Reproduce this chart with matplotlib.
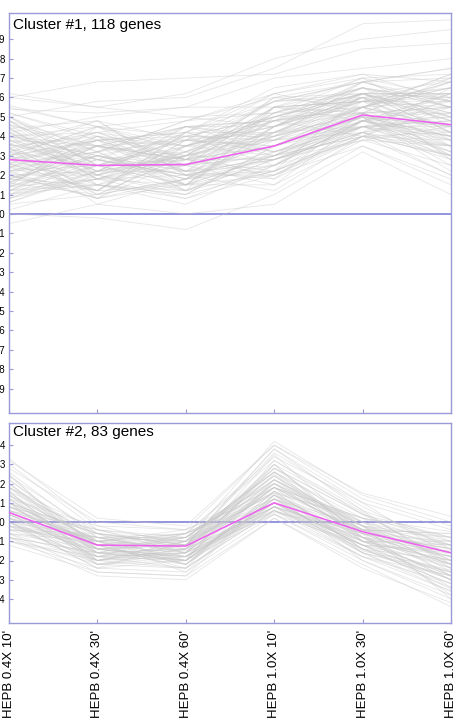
import numpy as np
import matplotlib
matplotlib.use('Agg')
import matplotlib.pyplot as plt

plt.rcParams['font.family'] = ['Liberation Sans', 'DejaVu Sans']

conditions = ["HEPB 0.4X 10'", "HEPB 0.4X 30'", "HEPB 0.4X 60'",
              "HEPB 1.0X 10'", "HEPB 1.0X 30'", "HEPB 1.0X 60'"]

# profiles in hundredths, one row per gene
cluster1 = """
28 25 25 35 51 46
42 18 30 55 48 62
12 30 22 18 52 35
35 40 15 42 60 28
20 12 35 48 40 55
50 28 20 30 58 70
8 22 40 25 45 40
30 45 28 60 55 30
45 15 10 22 62 50
18 35 45 38 42 65
62 55 50 45 68 75
5 10 18 40 50 22
25 32 12 28 38 45
38 20 32 50 65 58
15 38 25 15 48 32
48 25 38 35 55 68
22 8 15 45 60 40
32 42 48 62 52 52
10 18 8 20 35 18
40 30 22 52 70 60
26 12 42 32 45 48
55 45 35 58 62 42
14 28 20 12 40 30
36 22 28 48 55 72
20 38 15 30 50 25
46 32 45 40 68 55
2 15 5 25 38 35
30 10 30 55 58 45
16 35 38 42 45 62
60 55 62 80 90 95
24 20 10 35 52 38
40 42 28 28 48 50
12 25 35 50 62 68
34 5 18 22 42 20
52 38 42 65 72 58
18 30 25 40 55 45
28 15 32 18 40 60
44 48 20 45 58 35
8 18 28 38 50 52
22 35 12 55 65 42
0 -2 -8 10 35 15
38 28 45 48 52 70
16 40 22 28 45 30
48 20 30 60 68 55
50 58 60 75 98 100
26 12 38 32 48 40
12 32 15 45 60 65
36 25 28 20 42 28
56 45 50 52 62 48
20 8 18 38 55 58
30 38 35 30 40 35
42 50 55 70 75 80
10 22 30 42 50 45
34 15 8 25 48 38
24 30 40 50 62 62
46 35 22 35 55 42
14 25 15 15 38 25
40 18 35 45 65 55
28 42 25 55 52 68
18 12 42 30 45 32
52 40 30 40 60 50
6 20 12 28 42 48
32 48 38 62 70 72
22 28 20 22 48 35
44 22 45 48 58 60
16 35 28 35 50 40
36 10 18 42 62 52
26 32 48 52 55 65
48 25 15 20 40 30
12 18 32 58 68 75
30 38 22 32 45 45
20 8 28 40 52 55
40 45 40 50 60 38
10 28 18 25 48 58
34 20 35 45 62 48
54 52 55 55 58 62
18 15 10 35 50 28
28 35 30 28 42 52
38 22 42 62 72 68
14 30 20 20 45 35
44 18 25 48 55 45
24 40 35 38 60 62
32 12 15 30 48 40
8 25 38 45 52 55
48 35 28 52 65 50
20 20 45 32 42 30
36 48 22 25 55 65
16 10 30 42 62 42
40 30 18 55 58 58
26 38 40 38 45 48
12 15 12 22 40 20
34 42 35 48 68 70
50 25 25 35 50 45
22 32 48 60 62 60
30 18 20 28 45 38
14 45 32 42 58 55
42 28 15 50 52 32
24 12 38 35 48 62
38 35 28 22 40 42
6 22 22 45 65 58
28 38 42 58 60 48
46 20 30 38 55 72
18 30 18 28 42 35
34 8 35 50 62 52
60 68 70 72 85 88
22 25 12 32 50 40
40 35 45 45 58 65
10 15 25 55 70 45
30 45 20 30 48 55
20 22 40 40 52 30
-5 5 0 5 32 10
36 28 32 48 62 62
26 40 28 35 45 50
50 32 38 58 68 58
14 18 15 25 48 42
32 25 42 42 55 68
24 35 25 30 40 38
42 22 30 52 65 55
"""

cluster2 = """
5 -12 -12 10 -5 -16
12 -18 -8 22 -2 -28
-4 -8 -15 8 -10 -12
20 -14 -20 30 5 -22
0 -20 -10 15 -12 -35
8 -6 -18 5 -4 -8
33 -2 -12 38 10 -18
-8 -16 -22 12 -15 -25
15 -10 -6 18 2 -5
2 -22 -14 25 -8 -30
10 -12 -24 6 -12 -15
-2 -8 -10 20 0 -20
25 -18 -16 35 -6 -38
6 -4 -8 10 -10 -10
-10 -24 -20 4 -18 -28
14 -14 -12 28 4 -12
4 -10 -26 14 -14 -32
28 0 -4 40 12 -2
-6 -20 -14 8 -8 -22
18 -8 -16 18 -2 -40
0 -16 -8 26 -6 -14
10 -22 -20 12 -16 -26
-4 -6 -12 16 -4 -6
22 -12 -6 32 6 -24
-12 -26 -28 2 -22 -44
8 -14 -18 20 -10 -18
30 -4 -10 42 14 0
2 -10 -22 10 -12 -30
16 -20 -12 24 -4 -16
-6 -14 -18 6 -14 -20
12 -2 -4 15 2 -8
4 -18 -24 22 -8 -34
-2 -12 -10 12 -2 -12
20 -16 -14 30 -10 -28
6 -8 -20 8 -6 -22
-8 -22 -16 18 -16 -36
14 -10 -8 26 0 -10
0 -24 -26 4 -20 -40
24 -6 -12 36 8 -14
4 -16 -6 14 -8 -18
-4 -10 -18 10 -12 -26
10 -20 -14 20 -4 -6
18 -12 -22 16 -14 -30
-2 -14 -10 24 -2 -20
8 -4 -16 6 -8 -12
26 -8 -6 34 10 -4
0 -18 -20 12 -10 -24
-10 -20 -24 8 -18 -32
12 -14 -8 22 0 -14
6 -10 -12 18 -6 -22
16 -22 -18 10 -12 -16
-6 -26 -28 14 -20 -38
10 -6 -10 28 -2 -8
2 -16 -14 6 -10 -28
22 -10 -20 32 4 -20
-4 -18 -12 16 -14 -26
8 -12 -22 8 -6 -10
0 -8 -16 20 -8 -30
32 2 -2 40 15 3
4 -14 -18 12 -4 -18
14 -20 -10 26 2 -12
-8 -16 -20 10 -16 -34
6 -10 -6 18 -6 -14
18 -4 -14 22 -2 -24
-2 -22 -24 6 -18 -36
10 -12 -12 30 -8 -16
-10 -18 -16 4 -12 -22
12 -16 -20 14 -4 -28
2 -8 -8 24 -10 -20
24 -14 -12 38 6 -10
6 -20 -18 8 -14 -32
-6 -10 -14 18 -6 -18
16 -6 -22 16 0 -26
0 -24 -10 10 -12 -30
20 -12 -16 28 4 -8
4 -18 -6 12 -8 -24
-8 -28 -30 2 -24 -42
10 -6 -12 22 -4 -12
2 -14 -20 14 -10 -20
14 -10 -4 20 -2 -16
-2 -20 -16 8 -16 -28
8 -12 -8 26 -6 -14
18 -16 -18 18 2 -22
"""

mean1 = [0.28, 0.25, 0.255, 0.35, 0.51, 0.46]
mean2 = [0.05, -0.12, -0.125, 0.10, -0.05, -0.16]


def parse(txt):
    return np.array([[float(v) for v in ln.split()] for ln in txt.strip().splitlines()]) / 100.0


prof1 = parse(cluster1)
prof2 = parse(cluster2)

W, H = 456, 721
fig = plt.figure(figsize=(W / 100, H / 100), dpi=100)

frame = '#9a9ad8'
zero_c = '#7676d6'
gray = '#c8c8c8'
mag = '#f060f0'

x = np.arange(len(conditions))


def panel(rect, prof, mean, ylim, yticks, title, labels):
    ax = fig.add_axes(rect)
    ax.axhline(0, color=zero_c, lw=1.1, zorder=0.5)
    for row in prof:
        ax.plot(x, row, color=gray, lw=0.6, alpha=0.45, zorder=1)
    ax.plot(x, mean, color=mag, lw=1.1, zorder=3)
    ax.set_xlim(0, len(conditions) - 1)
    ax.set_ylim(*ylim)
    ax.set_yticks(yticks)
    ax.set_yticklabels(['%.1f' % v for v in yticks])
    ax.set_xticks(x)
    if labels:
        ax.set_xticklabels(conditions, rotation=90, fontsize=9.5)
    else:
        ax.set_xticklabels([])
    ax.tick_params(axis='both', direction='in', length=3, color=frame, width=0.8)
    ax.tick_params(axis='y', labelsize=7, pad=2.5)
    ax.tick_params(axis='x', pad=5)
    for s in ax.spines.values():
        s.set_color(frame)
        s.set_linewidth(1.0)
    ax.text(0.01, 0.988, title, transform=ax.transAxes, ha='left', va='top', fontsize=11)
    return ax


ticks1 = [round(v, 1) for v in np.arange(-0.9, 0.95, 0.1)]
ticks2 = [round(v, 1) for v in np.arange(-0.4, 0.45, 0.1)]

panel([9 / W, 1 - 413 / H, 442 / W, 400 / H], prof1, mean1, (-1.025, 1.035), ticks1,
      'Cluster #1, 118 genes', False)
panel([9 / W, 1 - 623 / H, 442 / W, 200 / H], prof2, mean2, (-0.525, 0.515), ticks2,
      'Cluster #2, 83 genes', True)

fig.savefig('out.png', dpi=100)
